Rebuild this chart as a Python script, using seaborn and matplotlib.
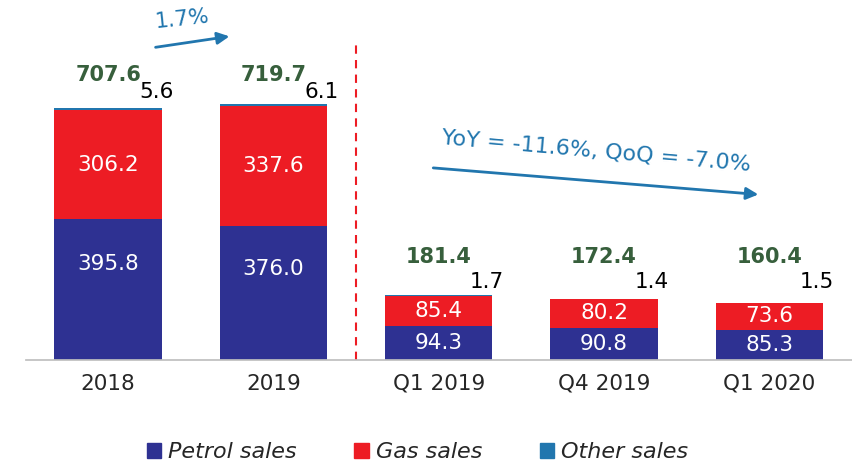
import numpy as np
import pandas as pd
import seaborn as sns
import matplotlib.pyplot as plt
from matplotlib.patches import Patch

# values
periods = ['2018', '2019', 'Q1 2019', 'Q4 2019', 'Q1 2020']
petrol = [395.8, 376.0, 94.3, 90.8, 85.3]
gas = [306.2, 337.6, 85.4, 80.2, 73.6]
other = [5.6, 6.1, 1.7, 1.4, 1.5]
totals = [707.6, 719.7, 181.4, 172.4, 160.4]

c_petrol = '#2E3192'
c_gas = '#ED1C24'
c_other = '#2176AE'
c_total = '#375F3C'

df = pd.DataFrame({'period': periods, 'petrol': petrol, 'gas': gas, 'other': other})
df['pg'] = df['petrol'] + df['gas']
df['all'] = df['pg'] + df['other']

sns.set_theme(style='white')
plt.rcParams['font.family'] = ['DejaVu Sans']

fig = plt.figure(figsize=(8.52, 4.65), dpi=100)
ax = fig.add_axes([0.03, 0.226, 0.97, 0.774])

# stacked look: draw cumulative heights on top of each other
for col, c in [('all', c_other), ('pg', c_gas), ('petrol', c_petrol)]:
    sns.barplot(data=df, x='period', y=col, order=periods, color=c, width=0.65,
                saturation=1, linewidth=0, ax=ax)

ax.set_xlim(-0.5, 4.5)
ax.set_ylim(0, 1011)
ax.set_xlabel('')
ax.set_ylabel('')
ax.set_yticks([])
for s in ['top', 'right', 'left']:
    ax.spines[s].set_visible(False)
ax.spines['bottom'].set_color('#BFBFBF')
ax.tick_params(axis='x', labelsize=15.5, length=0, pad=10)

# yearly bars and quarterly bars share label heights within their group
tops = df['all'].tolist()
group_top = [max(tops[:2])] * 2 + [max(tops[2:])] * 3
total_off = [29, 29, 38, 38, 38]
other_off = [12, 12, 13, 13, 13]

for i in range(len(periods)):
    frac = 0.68 if petrol[i] > 200 else 0.5
    ax.text(i, petrol[i] * frac, f'{petrol[i]:.1f}', ha='center', va='center', color='white', fontsize=15.5)
    ax.text(i, petrol[i] + gas[i] / 2, f'{gas[i]:.1f}', ha='center', va='center', color='white', fontsize=15.5)
    ax.annotate(f'{other[i]:.1f}', (i + 0.29, group_top[i]), xytext=(0, other_off[i]), textcoords='offset pixels',
                ha='center', va='center', fontsize=15.5, color='black')
    ax.annotate(f'{totals[i]:.1f}', (i, group_top[i]), xytext=(0, total_off[i]), textcoords='offset pixels',
                ha='center', va='center', fontsize=15, color=c_total, fontweight='bold')

# divider between yearly and quarterly bars
ax.plot([1.5, 1.5], [0, 885], color=c_gas, linestyle=(0, (4, 3)), linewidth=1.5)

# growth arrows
ax.annotate('', xy=(0.75, 910), xytext=(0.27, 877),
            arrowprops=dict(arrowstyle='-|>', color=c_other, lw=2, mutation_scale=18))
ax.text(0.45, 957, '1.7%', color=c_other, fontsize=15.5, ha='center', va='center', rotation=6)
ax.annotate('', xy=(3.95, 464), xytext=(1.95, 540),
            arrowprops=dict(arrowstyle='-|>', color=c_other, lw=2, mutation_scale=18))
ax.text(2.95, 588, 'YoY = -11.6%, QoQ = -7.0%', color=c_other, fontsize=16,
        ha='center', va='center', rotation=-5)

handles = [Patch(color=c_petrol, label='Petrol sales'),
           Patch(color=c_gas, label='Gas sales'),
           Patch(color=c_other, label='Other sales')]
fig.legend(handles=handles, loc='center', bbox_to_anchor=(0.49, 0.028), ncol=3, frameon=False,
           prop={'size': 16, 'style': 'italic'}, handlelength=0.65, handleheight=0.65,
           handletextpad=0.3, columnspacing=2.6)

fig.savefig('out.png', dpi=100)
